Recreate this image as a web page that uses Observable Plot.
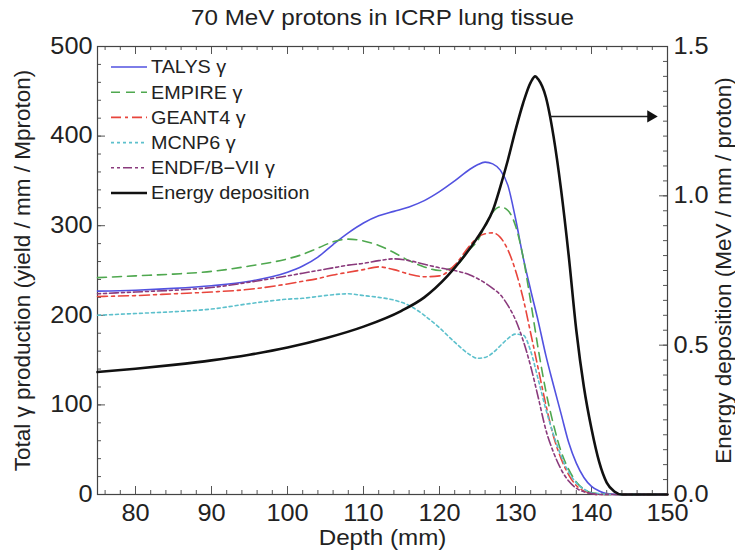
<!DOCTYPE html>
<html><head><meta charset="utf-8">
<script src="https://cdn.jsdelivr.net/npm/d3@7"></script>
<script src="https://cdn.jsdelivr.net/npm/@observablehq/plot@0.6"></script>
<style>
body{margin:0;background:#fff}
#chart{width:735px;height:555px;position:relative}
</style>
</head><body><div id="chart"></div>
<script>
// ---- data ----
const depth  = [75,80,85,90,95,100,102,104,106,108,110,112,114,116,118,120,122,124,125,126,127,128,129,130,131,132,133,134,135,136,137,138,139,140,141,142,144,150];
const talys  = [227,228,230,233,238,248,255,265,279,292,303,311,316,321,328,338,350,363,368,371,369,362,345,308,265,228,193,155,122,90,58,35,19,9,4,1,0,0];
const empire = [242,244,246,249,255,263,268,275,282,285,283,278,270,261,254,250,254,274,283,300,315,321,317,300,265,215,162,115,78,48,28,14,6,2,1,0,0,0];
const geant4 = [221,222,224,226,229,235,238,241,245,248,251,254,251,246,243,244,256,278,287,291,292,287,273,250,219,180,140,100,65,40,22,10,4,1,0,0,0,0];
const mcnp6  = [200,202,204,207,213,218,219,221,223,224,222,220,217,211,200,186,170,156,152,153,158,166,174,179,178,160,128,95,67,43,25,13,6,2,1,0,0,0];
const endf   = [224,226,228,231,237,244,247,250,253,256,258,261,263,261,257,253,250,245,241,236,230,223,211,195,172,143,108,72,47,28,15,7,3,1,0,0,0,0];

const edDepth = [75,80,85,90,95,100,105,110,115,118,121,123,125,126,127,128,129,130,131,132,132.6,133,134,135,136,137,138,139,140,141,142,143,144,150];
const edValue = [0.41,0.421,0.434,0.449,0.468,0.492,0.523,0.562,0.615,0.66,0.73,0.79,0.86,0.90,0.95,1.03,1.12,1.22,1.31,1.38,1.40,1.39,1.33,1.20,1.02,0.80,0.55,0.36,0.22,0.11,0.04,0.01,0,0];

const xTicks = [80,90,100,110,120,130,140,150];
const yTicksLeft = [0,100,200,300,400,500];
const yTicksRight = [0.0,0.5,1.0,1.5];
const arrowDepth = [134.5,147.8];
const arrowEnergy = 1.266;

const titleText = "70 MeV protons in ICRP lung tissue";
const xLabel = "Depth (mm)";
const yLabelLeft = "Total \u03b3 production (yield / mm / Mproton)";
const yLabelRight = "Energy deposition (MeV / mm / proton)";

const seriesNames  = ["TALYS \u03b3","EMPIRE \u03b3","GEANT4 \u03b3","MCNP6 \u03b3","ENDF/B\u2212VII \u03b3"];
const seriesValues = [talys, empire, geant4, mcnp6, endf];
const seriesColors = ["#5252e0","#4fa84f","#e8453c","#5cc0cc","#8a3a7c"];
const seriesDash   = [null,"9,6","10,4,3,4","3,3","3,3,3,3,9,3"];
const edName = "Energy deposition";

// ---- layout ----
const W=735, H=555, mL=97, mR=68, mT=46, mB=61;
const innerW = W-mL-mR, innerH = H-mT-mB;
const YMAX = 500, EMAX = 1.5;
const eToY = e => e*YMAX/EMAX;
const FONT = "'Liberation Sans', Arial, Helvetica, sans-serif";
const STRETCH = 1.1;

const xMinor = d3.range(76,151,2);
const yMinorLeft = d3.range(0,501,20);
const yMinorRight = d3.range(0,1.5001,0.05).map(eToY);

const lineMarks = seriesValues.map((vals,i) =>
  Plot.line(depth.map((d,j)=>({d, v: vals[j]})), {
    x:"d", y:"v", stroke: seriesColors[i], strokeWidth:1.6,
    strokeDasharray: seriesDash[i], curve:"monotone-x"
  }));

const edData = edDepth.map((d,i)=>({d, v: eToY(edValue[i])}));
const arrowData = [{x1: arrowDepth[0], x2: arrowDepth[1], y: eToY(arrowEnergy)}];

const tickStroke = "#555";
const plot = Plot.plot({
  width: W, height: H,
  marginLeft: mL, marginRight: mR, marginTop: mT, marginBottom: mB,
  x: {domain:[75,150]},
  y: {domain:[0,YMAX]},
  style: {fontFamily: FONT, fontSize:"23px", color:"#222", background:"#fff"},
  marks: [
    Plot.tickX(xMinor, {x:d=>d, insetTop: innerH-4, stroke:tickStroke}),
    Plot.tickX(xMinor, {x:d=>d, insetBottom: innerH-4, stroke:tickStroke}),
    Plot.tickX(xTicks, {x:d=>d, insetTop: innerH-8, stroke:tickStroke}),
    Plot.tickX(xTicks, {x:d=>d, insetBottom: innerH-8, stroke:tickStroke}),
    Plot.tickY(yMinorLeft, {y:d=>d, insetRight: innerW-4, stroke:tickStroke}),
    Plot.tickY(yTicksLeft, {y:d=>d, insetRight: innerW-8, stroke:tickStroke}),
    Plot.tickY(yMinorRight, {y:d=>d, insetLeft: innerW-4, stroke:tickStroke}),
    Plot.tickY(yTicksRight.map(eToY), {y:d=>d, insetLeft: innerW-8, stroke:tickStroke}),
    Plot.frame({stroke:"#444", strokeWidth:1.2}),
    Plot.axisX({anchor:"bottom", ticks: xTicks, tickSize:0, tickPadding:10, label:null, tickFormat: d=>String(d)}),
    Plot.axisY({anchor:"left", ticks: yTicksLeft, tickSize:0, tickPadding:5, label:null, tickFormat: d=>String(d)}),
    Plot.axisY({anchor:"right", ticks: yTicksRight.map(eToY), tickSize:0, tickPadding:6, label:null,
                tickFormat: d => (d*EMAX/YMAX).toFixed(1)}),
    ...lineMarks,
    Plot.line(edData, {x:"d", y:"v", stroke:"#111", strokeWidth:2.6, curve:"monotone-x"}),
    Plot.link(arrowData, {x1:"x1", x2:"x2", y1:"y", y2:"y", stroke:"#222", strokeWidth:1.5}),
    Plot.dot(arrowData, {x:"x2", y:"y", symbol:"triangle", rotate:90, r:4.5, fill:"#111", stroke:"none"}),
    Plot.text([titleText], {frameAnchor:"top", dy:-29, lineAnchor:"middle", textAnchor:"middle", fontSize:22, fill:"#222"}),
    Plot.text([xLabel], {frameAnchor:"bottom", dy:43, lineAnchor:"middle", textAnchor:"middle", fontSize:22, fill:"#222"}),
    Plot.text([yLabelLeft], {frameAnchor:"left", dx:-75, rotate:-90, lineAnchor:"middle", textAnchor:"middle", fontSize:22.5, fill:"#222"}),
    Plot.text([yLabelRight], {frameAnchor:"right", dx:56, rotate:-90, lineAnchor:"middle", textAnchor:"middle", fontSize:22.5, fill:"#222"})
  ]
});

document.getElementById("chart").appendChild(plot);

// legend (inside frame, top-left)
const svg = d3.select(plot);
const lg = svg.append("g").attr("font-family", FONT).attr("font-size", 18).attr("fill","#222").attr("text-anchor","start");
const legendItems = seriesNames.map((n,i)=>({n, c:seriesColors[i], dash:seriesDash[i], w:1.6}))
  .concat([{n: edName, c:"#111", dash:null, w:2.6}]);
legendItems.forEach((it,i)=>{
  const y = 67 + i*25.2;
  lg.append("line").attr("x1",111).attr("x2",147).attr("y1",y).attr("y2",y)
    .attr("stroke", it.c).attr("stroke-width", it.w).attr("stroke-dasharray", it.dash);
  lg.append("text").attr("x",151).attr("y",y).attr("dy","0.35em").text(it.n);
});

// widen horizontal texts slightly to match the reference's wide lettering
svg.selectAll("text").each(function(){
  const t = this.getAttribute("transform") || "";
  const pt = this.parentNode && this.parentNode.getAttribute && (this.parentNode.getAttribute("transform")||"");
  if (t.includes("rotate") || pt.includes("rotate")) return;
  const L = this.getComputedTextLength();
  if (L > 0) {
    this.setAttribute("textLength", (L*STRETCH).toFixed(1));
    this.setAttribute("lengthAdjust", "spacingAndGlyphs");
  }
});
</script>
</body></html>
